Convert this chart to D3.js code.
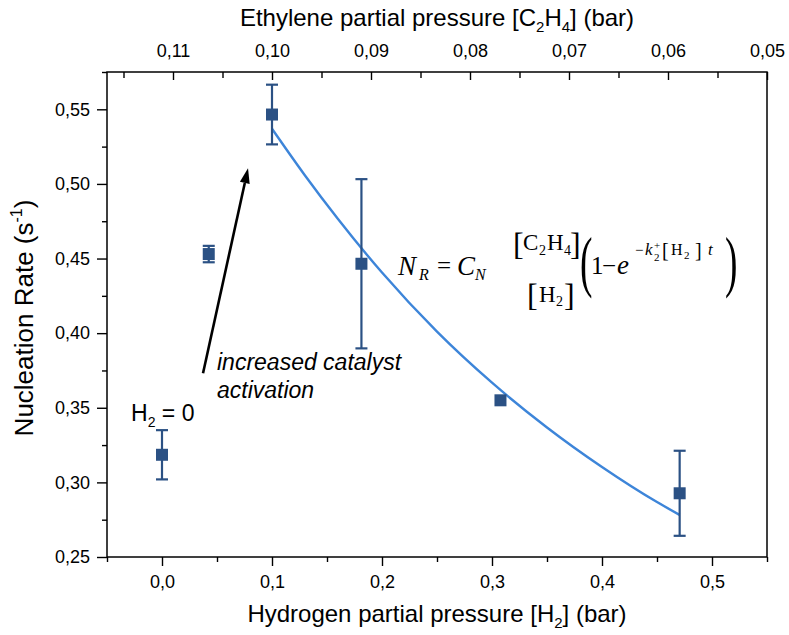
<!DOCTYPE html>
<html>
<head>
<meta charset="utf-8">
<script src="https://cdn.jsdelivr.net/npm/d3@7"></script>
<style>
  body { margin: 0; background: #fff; }
  svg { display: block; }
  .sans { font-family: "Liberation Sans", Arial, sans-serif; }
  .serif { font-family: "Liberation Serif", "Times New Roman", serif; }
</style>
</head>
<body>
<svg id="chart" width="789" height="635"></svg>
<script>
// Measured nucleation rates vs. hydrogen partial pressure
const hydrogen = [0.0, 0.0425, 0.1, 0.1813, 0.3077, 0.4706];
const rate     = [0.3185, 0.453, 0.5465, 0.4465, 0.355, 0.2927];
const rateErr  = [0.0165, 0.0055, 0.020, 0.0567, 0, 0.0285];

// Model curve N_R = C_N [C2H4]/[H2] (1 - exp(-k2+ [H2] t)), points along the fitted line
const fitH2   = [0.1, 0.13, 0.16, 0.2, 0.25, 0.3, 0.35, 0.4, 0.45, 0.4706];
const fitRate = [0.537, 0.5057, 0.4765, 0.4406, 0.401, 0.3668, 0.3368, 0.3103, 0.2868, 0.2782];

// Axis ticks
const xTicks = [0.0, 0.1, 0.2, 0.3, 0.4, 0.5];
const xMinor = [-0.05, 0.05, 0.15, 0.25, 0.35, 0.45, 0.55];
const yTicks = [0.25, 0.30, 0.35, 0.40, 0.45, 0.50, 0.55];
const yMinor = [0.275, 0.325, 0.375, 0.425, 0.475, 0.525, 0.575];
const topTicks = [0.11, 0.10, 0.09, 0.08, 0.07, 0.06, 0.05];
const topMinor = [0.115, 0.105, 0.095, 0.085, 0.075, 0.065, 0.055];

const markerColor = "#2b5184";
const curveColor = "#3d85d9";

const svg = d3.select("#chart");
svg.append("rect").attr("width", 789).attr("height", 635).attr("fill", "#fff");

const x = d3.scaleLinear().domain([-0.05, 0.55]).range([107, 767]);
const y = d3.scaleLinear().domain([0.25, 0.575]).range([557, 72]);
// ethylene partial pressure tied to the hydrogen axis: [C2H4] = (1 - [H2]) / 9
const xTop = d3.scaleLinear().domain(x.domain().map(h => (1 - h) / 9)).range(x.range());

const loc = d3.formatLocale({decimal: ",", thousands: ".", grouping: [3], currency: ["", "€"]});
const fmt1 = loc.format(".1f"), fmt2 = loc.format(".2f");

function styleAxis(g) {
  g.select(".domain").remove();
  g.selectAll(".tick line").attr("stroke", "#000").attr("stroke-width", 1.4);
  g.selectAll(".tick text").attr("fill", "#000").attr("font-size", 18)
    .attr("font-family", "Liberation Sans, Arial, sans-serif");
}

// bottom axis
svg.append("g").attr("transform", "translate(0,557)")
  .call(d3.axisBottom(x).tickValues(xMinor).tickSize(5).tickFormat(""))
  .call(styleAxis);
svg.append("g").attr("transform", "translate(0,557)")
  .call(d3.axisBottom(x).tickValues(xTicks).tickSize(9).tickPadding(9).tickFormat(fmt1))
  .call(styleAxis);

// left axis
svg.append("g").attr("transform", "translate(107,0)")
  .call(d3.axisLeft(y).tickValues(yMinor).tickSize(5).tickFormat(""))
  .call(styleAxis);
svg.append("g").attr("transform", "translate(107,0)")
  .call(d3.axisLeft(y).tickValues(yTicks).tickSize(10).tickPadding(7).tickFormat(fmt2))
  .call(styleAxis);

// top axis (ticks pointing inward)
svg.append("g").attr("transform", "translate(0,72)")
  .call(d3.axisTop(xTop).tickValues(topMinor).tickSize(-6).tickFormat(""))
  .call(styleAxis);
svg.append("g").attr("transform", "translate(0,72)")
  .call(d3.axisTop(xTop).tickValues(topTicks).tickSize(-8).tickPadding(15).tickFormat(fmt2))
  .call(styleAxis);

// frame
svg.append("rect").attr("x", 107).attr("y", 72).attr("width", 660).attr("height", 485)
  .attr("fill", "none").attr("stroke", "#000").attr("stroke-width", 1.5);

// axis titles
const bt = svg.append("text").attr("class", "sans").attr("x", 437).attr("y", 622)
  .attr("text-anchor", "middle").attr("font-size", 24).attr("fill", "#000");
bt.append("tspan").text("Hydrogen partial pressure [H");
bt.append("tspan").attr("font-size", 15).attr("dy", 6).text("2");
bt.append("tspan").attr("dy", -6).text("] (bar)");

const tt = svg.append("text").attr("class", "sans").attr("x", 437).attr("y", 26)
  .attr("text-anchor", "middle").attr("font-size", 24).attr("fill", "#000");
tt.append("tspan").text("Ethylene partial pressure [C");
tt.append("tspan").attr("font-size", 15).attr("dy", 6).text("2");
tt.append("tspan").attr("dy", -6).text("H");
tt.append("tspan").attr("font-size", 15).attr("dy", 6).text("4");
tt.append("tspan").attr("dy", -6).text("] (bar)");

const lt = svg.append("text").attr("class", "sans")
  .attr("transform", "translate(33,318) rotate(-90)")
  .attr("text-anchor", "middle").attr("font-size", 26).attr("fill", "#000");
lt.append("tspan").text("Nucleation Rate (s");
lt.append("tspan").attr("font-size", 16).attr("dy", -11).text("-1");
lt.append("tspan").attr("dy", 11).text(")");

// fitted curve
const pts = fitH2.map((h, i) => [h, fitRate[i]]);
svg.append("path").datum(pts)
  .attr("d", d3.line().x(d => x(d[0])).y(d => y(d[1])).curve(d3.curveMonotoneX))
  .attr("fill", "none").attr("stroke", curveColor).attr("stroke-width", 2.4);

// error bars
const data = hydrogen.map((h, i) => ({h, r: rate[i], e: rateErr[i]}));
const eb = svg.append("g").attr("stroke", markerColor).attr("stroke-width", 2.2);
data.filter(d => d.e > 0).forEach(d => {
  const cx = x(d.h), y1 = y(d.r + d.e), y2 = y(d.r - d.e);
  eb.append("line").attr("x1", cx).attr("x2", cx).attr("y1", y1).attr("y2", y2);
  eb.append("line").attr("x1", cx - 6).attr("x2", cx + 6).attr("y1", y1).attr("y2", y1);
  eb.append("line").attr("x1", cx - 6).attr("x2", cx + 6).attr("y1", y2).attr("y2", y2);
});

// markers
svg.append("g").selectAll("rect").data(data).join("rect")
  .attr("x", d => x(d.h) - 6).attr("y", d => y(d.r) - 6)
  .attr("width", 12).attr("height", 12).attr("fill", markerColor);

// arrow: catalyst activation
const tail = [x(0.0373), y(0.3731)], tip = [x(0.0782), y(0.5105)];
const ang = Math.atan2(tip[1] - tail[1], tip[0] - tail[0]);
const headLen = 15, headW = 5;
const base = [tip[0] - headLen * Math.cos(ang), tip[1] - headLen * Math.sin(ang)];
svg.append("line").attr("x1", tail[0]).attr("y1", tail[1]).attr("x2", base[0]).attr("y2", base[1])
  .attr("stroke", "#000").attr("stroke-width", 2.6);
svg.append("path")
  .attr("d", `M${tip[0]},${tip[1]} L${base[0] + headW * Math.sin(ang)},${base[1] - headW * Math.cos(ang)} L${base[0] - headW * Math.sin(ang)},${base[1] + headW * Math.cos(ang)} Z`)
  .attr("fill", "#000");

// annotations
const an = svg.append("text").attr("class", "sans").attr("font-size", 23)
  .attr("font-style", "italic").attr("fill", "#000");
an.append("tspan").attr("x", 217).attr("y", 370).text("increased catalyst");
an.append("tspan").attr("x", 217).attr("y", 398).text("activation");

const h0 = svg.append("text").attr("class", "sans").attr("x", 131).attr("y", 421)
  .attr("font-size", 23).attr("fill", "#000");
h0.append("tspan").text("H");
h0.append("tspan").attr("font-size", 14).attr("dy", 6).text("2");
h0.append("tspan").attr("dy", -6).text(" = 0");

// model equation
const eq = svg.append("g").attr("class", "serif").attr("fill", "#000");
function t(xp, yp, s, size, italic, anchor) {
  return eq.append("text").attr("x", xp).attr("y", yp).attr("font-size", size)
    .attr("font-style", italic ? "italic" : "normal")
    .attr("text-anchor", anchor || "start").text(s);
}
// main line
t(398, 275, "N", 27, true);
t(419, 280, "R", 16, true);
t(437, 274, "=", 25, false);
t(457, 275, "C", 27, true);
t(475, 280, "N", 16, true);

// numerator [C2H4]
t(513, 255, "[", 32, false);
t(523, 250, "C", 23, false);
t(539, 255, "2", 14, false);
t(547, 250, "H", 23, false);
t(564, 255, "4", 14, false);
t(570, 255, "]", 32, false);
// denominator [H2]
t(527, 306, "[", 32, false);
t(539, 302, "H", 23, false);
t(556, 306, "2", 14, false);
t(564, 306, "]", 32, false);

// large parentheses
eq.append("text").attr("transform", "translate(580,284) scale(0.55,1)")
  .attr("font-size", 68).text("(");
eq.append("text").attr("transform", "translate(725,284) scale(0.55,1)")
  .attr("font-size", 68).text(")");

t(591, 274, "1", 25, false);
t(602, 274, "\u2212", 25, false);
t(617, 274, "e", 27, true);
// exponent
t(635, 255, "\u2212", 15, false);
t(645, 255, "k", 17, true);
t(654, 249, "+", 11, false);
t(654, 261, "2", 11, false);
t(662, 257, "[", 20, false);
t(671, 255, "H", 16, false);
t(684, 259, "2", 11, false);
t(695, 257, "]", 20, false);
t(708, 255, "t", 17, true);
</script>
</body>
</html>
